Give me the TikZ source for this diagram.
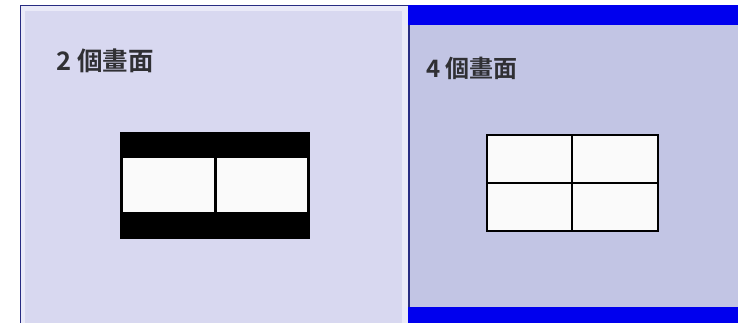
\documentclass[tikz,border=0pt]{standalone}
\usepackage{fontspec}
\newfontfamily\cjk{Noto Sans CJK TC}[BoldFont={Noto Sans CJK TC Bold}]
\definecolor{frameL}{RGB}{234,234,248}
\definecolor{panelL}{RGB}{216,216,240}
\definecolor{panelR}{RGB}{194,197,228}
\definecolor{barblue}{RGB}{0,0,238}
\definecolor{navy}{RGB}{40,44,130}
\definecolor{textgray}{RGB}{48,48,52}
\definecolor{cellwhite}{RGB}{250,250,250}
\tikzset{
  label text/.style={anchor=base west, inner sep=0pt, text=textgray, font=\cjk\bfseries\fontsize{25.5}{26}\selectfont},
  gridline/.style={draw=black, line width=2.5pt}
}
\begin{document}
\begin{tikzpicture}[x=1pt,y=-1pt]
\useasboundingbox (0,0) rectangle (738,323);
\fill[white] (0,0) rectangle (738,323);
% left panel
\fill[frameL] (20,5) rectangle (410,323);
\fill[panelL] (25,11) rectangle (402,323);
\draw[navy, line width=1.2pt] (20.6,323) -- (20.6,5.6) -- (410,5.6);
% right panel
\fill[panelR] (408,5) rectangle (738,323);
\fill[barblue] (408,5) rectangle (738,25);
\fill[barblue] (408,307) rectangle (738,323);
\draw[navy, line width=2pt] (409,25) -- (409,307);
% labels
\node[label text] (t2) at (56,70.5) {2 個畫面};
\node[label text, font=\cjk\bfseries\fontsize{24}{24}\selectfont] (t4) at (426,78) {4 個畫面};
% 2-screen icon
\fill[black] (120,132) rectangle (310,239);
\fill[cellwhite] (123,158) rectangle (307,212);
\draw[black, line width=3pt] (215,158) -- (215,212);
% 4-screen icon
\draw[gridline, fill=cellwhite] (487,135) rectangle (658,231);
\draw[gridline] (572,135) -- (572,231);
\draw[gridline] (487,183) -- (658,183);
\end{tikzpicture}
\end{document}
